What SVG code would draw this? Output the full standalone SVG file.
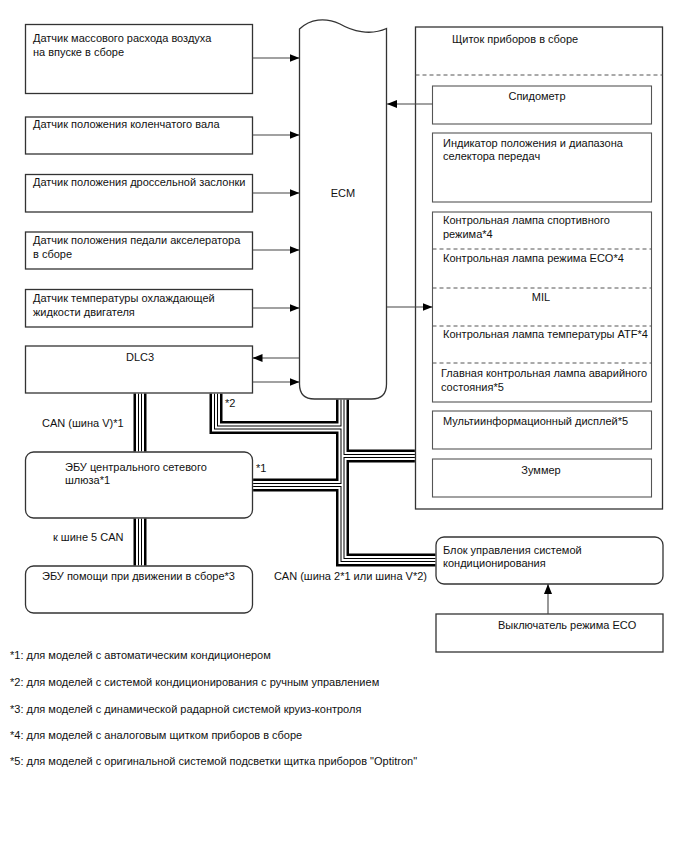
<svg xmlns="http://www.w3.org/2000/svg" width="688" height="852" viewBox="0 0 688 852">
<style>
text{font-family:"Liberation Sans",Arial,sans-serif;font-size:11px;fill:#111}
.box{fill:#fff;stroke:#333;stroke-width:1.3}
.inner{fill:#fff;stroke:#555;stroke-width:1.1}
.dash{stroke:#555;stroke-width:1;stroke-dasharray:4 3;fill:none}
.ar{stroke:#444;stroke-width:1.1;fill:none;marker-end:url(#ah)}
.b1{fill:none;stroke:#000;stroke-width:13;stroke-linejoin:miter}
.b2{fill:none;stroke:#fff;stroke-width:8;stroke-linejoin:miter}
.b3{fill:none;stroke:#000;stroke-width:4;stroke-linejoin:miter}
.b4{fill:none;stroke:#fff;stroke-width:2;stroke-linejoin:miter}
</style>
<defs>
<marker id="ah" viewBox="0 0 10 8" refX="10" refY="4" markerWidth="10" markerHeight="8" markerUnits="userSpaceOnUse" orient="auto">
<path d="M0,0 L10,4 L0,8 Z" fill="#000"/>
</marker>
<path id="busDLC" d="M216,393.65 V427.5 H342.5"/>
<path id="busMain" d="M342.5,399.65 V560 H435.35"/>
<path id="busGW" d="M253.15,485 H342.5"/>
<path id="busCL" d="M342.5,456 H414.85"/>
<path id="busV1" d="M140,393.65 V451.35"/>
<path id="busV2" d="M140,518.65 V565.35"/>
</defs>

<g id="ecm">
<path class="box" d="M299.5,29 C310,19 325,17 340,24 C352,31 370,36 386.5,28.5 L386.5,384 Q386.5,399 371.5,399 L314.5,399 Q299.5,399 299.5,384 Z"/>
<text x="343" y="197" text-anchor="middle">ECM</text>
</g>

<g id="maf"><rect class="box" x="25.5" y="24.5" width="227" height="69"/>
<text x="33" y="42">Датчик массового расхода воздуха</text><text x="33" y="56">на впуске в сборе</text></g>
<g id="ckp"><rect class="box" x="25.5" y="117" width="227" height="37"/>
<text x="33" y="128">Датчик положения коленчатого вала</text></g>
<g id="tps"><rect class="box" x="25.5" y="174.5" width="227" height="37.5"/>
<text x="33" y="186">Датчик положения дроссельной заслонки</text></g>
<g id="app"><rect class="box" x="25.5" y="232" width="227" height="37"/>
<text x="33" y="244">Датчик положения педали акселератора</text><text x="33" y="258">в сборе</text></g>
<g id="ect"><rect class="box" x="25.5" y="289.5" width="227" height="37.5"/>
<text x="33" y="302">Датчик температуры охлаждающей</text><text x="33" y="316">жидкости двигателя</text></g>
<g id="dlc3"><rect class="box" x="25.5" y="346" width="227" height="47"/>
<text x="140" y="361" text-anchor="middle">DLC3</text></g>

<g id="cluster">
<rect class="box" x="415.5" y="27" width="247" height="482"/>
<text x="452" y="43">Щиток приборов в сборе</text>
<line class="dash" x1="415.5" y1="75" x2="662.5" y2="75"/>
</g>
<g id="speedo"><rect class="inner" x="432.5" y="86" width="219" height="38"/>
<text x="537" y="100" text-anchor="middle">Спидометр</text></g>
<g id="shift"><rect class="inner" x="432.5" y="133" width="219" height="69"/>
<text x="443" y="147">Индикатор положения и диапазона</text><text x="443" y="160">селектора передач</text></g>
<g id="lamps"><rect class="inner" x="432.5" y="212" width="219" height="190"/>
<line class="dash" x1="432.5" y1="249" x2="651.5" y2="249"/>
<line class="dash" x1="432.5" y1="288" x2="651.5" y2="288"/>
<line class="dash" x1="432.5" y1="326" x2="651.5" y2="326"/>
<line class="dash" x1="432.5" y1="363" x2="651.5" y2="363"/>
<text x="443" y="224">Контрольная лампа спортивного</text><text x="443" y="237.5">режима*4</text>
<text x="443" y="262">Контрольная лампа режима ECO*4</text>
<text x="541" y="300.5" text-anchor="middle">MIL</text>
<text x="443" y="338">Контрольная лампа температуры ATF*4</text>
<text x="441" y="377">Главная контрольная лампа аварийного</text><text x="441" y="391">состояния*5</text>
</g>
<g id="multi"><rect class="inner" x="432.5" y="411" width="219" height="38"/>
<text x="443" y="425">Мультиинформационный дисплей*5</text></g>
<g id="buzzer"><rect class="inner" x="432.5" y="459" width="219" height="38"/>
<text x="541" y="474" text-anchor="middle">Зуммер</text></g>

<g id="gateway"><rect class="box" x="25.5" y="452" width="227" height="66" rx="8"/>
<text x="65" y="470.5">ЭБУ центрального сетевого</text><text x="65" y="484">шлюза*1</text></g>
<g id="drive"><rect class="box" x="25.5" y="566" width="227" height="47" rx="8"/>
<text x="42" y="580">ЭБУ помощи при движении в сборе*3</text></g>
<g id="ac"><rect class="box" x="436" y="537" width="227" height="47" rx="8"/>
<text x="443" y="554">Блок управления системой</text><text x="443" y="567">кондиционирования</text></g>
<g id="eco"><rect class="box" x="436" y="614" width="227" height="38"/>
<text x="498" y="629">Выключатель режима ECO</text></g>

<g id="connectors">
<g class="b1"><use href="#busDLC"/><use href="#busMain"/><use href="#busGW"/><use href="#busCL"/><use href="#busV1"/><use href="#busV2"/></g>
<g class="b2"><use href="#busDLC"/><use href="#busMain"/><use href="#busGW"/><use href="#busCL"/><use href="#busV1"/><use href="#busV2"/></g>
<g class="b3"><use href="#busDLC"/><use href="#busMain"/><use href="#busGW"/><use href="#busCL"/><use href="#busV1"/><use href="#busV2"/></g>
<g class="b4"><use href="#busDLC"/><use href="#busMain"/><use href="#busGW"/><use href="#busCL"/><use href="#busV1"/><use href="#busV2"/></g>
<path class="ar" d="M252.5,58 H299.5"/>
<path class="ar" d="M252.5,135 H299.5"/>
<path class="ar" d="M252.5,193 H299.5"/>
<path class="ar" d="M252.5,250 H299.5"/>
<path class="ar" d="M252.5,308 H299.5"/>
<path class="ar" d="M299.5,358 H252.5"/>
<path class="ar" d="M252.5,382 H299.5"/>
<path class="ar" d="M432.5,104 H387"/>
<path class="ar" d="M387,307 H432.5"/>
<path class="ar" d="M548,614 V584"/>
</g>

<g id="labels">
<text x="225" y="407">*2</text>
<text x="42" y="427">CAN (шина V)*1</text>
<text x="256" y="472">*1</text>
<text x="53" y="541">к шине 5 CAN</text>
<text x="427" y="580" text-anchor="end">CAN (шина 2*1 или шина V*2)</text>
</g>

<g id="footnotes">
<text x="10" y="659">*1: для моделей с автоматическим кондиционером</text>
<text x="10" y="686">*2: для моделей с системой кондиционирования с ручным управлением</text>
<text x="10" y="713">*3: для моделей с динамической радарной системой круиз-контроля</text>
<text x="10" y="739">*4: для моделей с аналоговым щитком приборов в сборе</text>
<text x="10" y="765">*5: для моделей с оригинальной системой подсветки щитка приборов "Optitron"</text>
</g>
</svg>
